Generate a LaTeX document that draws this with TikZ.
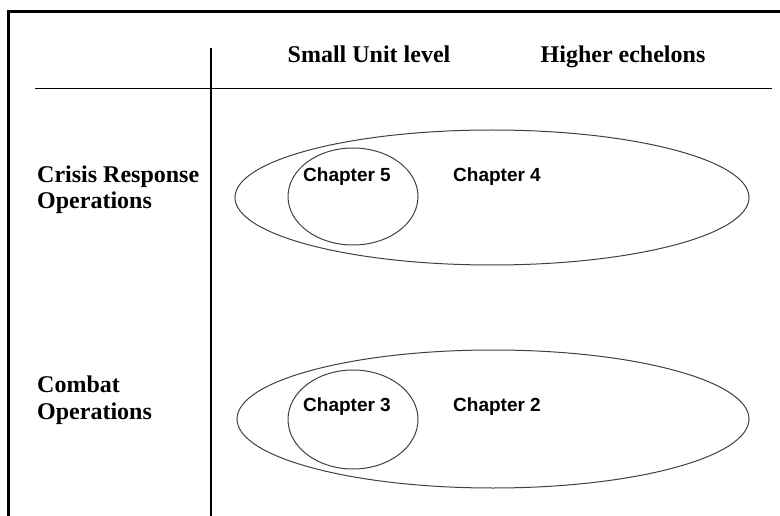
\documentclass[tikz,border=0pt]{standalone}
\usepackage{fontspec}
\setmainfont{Liberation Serif}
\setsansfont{Liberation Sans}
\usetikzlibrary{shapes.geometric}
\begin{document}
\begin{tikzpicture}[x=1pt,y=-1pt,
  rowlabel/.style={font=\fontsize{24}{26}\selectfont\bfseries, anchor=base west, inner sep=0pt},
  collabel/.style={font=\fontsize{24}{26}\selectfont\bfseries, anchor=base, inner sep=0pt},
  chaplabel/.style={font=\sffamily\fontsize{19}{21}\selectfont\bfseries, anchor=base west, inner sep=0pt},
  outer/.style={ellipse, draw=black!75, line width=1pt, inner sep=0pt, minimum width=#1},
  inner/.style={ellipse, draw=black!75, line width=1pt, inner sep=0pt, minimum width=130pt, minimum height=#1},
  frame/.style={line width=3pt},
  rule/.style={line width=1.8pt}]
  \useasboundingbox (0,0) rectangle (780,516);

  % frame along the left and top edges
  \coordinate (fb) at (8.5,517);
  \coordinate (fc) at (8.5,11.5);
  \coordinate (fr) at (781,11.5);
  \draw[frame] (fb) -- (fc) -- (fr);

  % table rules
  \coordinate (vt) at (211,48);
  \coordinate (vb) at (211,517);
  \coordinate (hl) at (35,88.5);
  \coordinate (hr) at (772,88.5);
  \draw[rule, line width=1.5pt] (vt) -- (vb);
  \draw[rule] (hl) -- (hr);

  % column headings
  \node[collabel] (small) at (369,63) {Small Unit level};
  \node[collabel] (higher) at (623,63) {Higher echelons};

  % row headings
  \node[rowlabel] (crisisA) at (37,183) {Crisis Response};
  \node[rowlabel] (crisisB) at (37,209) {Operations};
  \node[rowlabel] (combatA) at (37,392) {Combat};
  \node[rowlabel] (combatB) at (37,419) {Operations};

  % crisis response row
  \node[outer=514pt, minimum height=135pt] (ch4) at (492,197.5) {};
  \node[inner=97pt] (ch5) at (353,196.5) {};
  \node[chaplabel] (t5) at (303,182) {Chapter 5};
  \node[chaplabel] (t4) at (453,182) {Chapter 4};

  % combat row
  \node[outer=512pt, minimum height=138pt] (ch2) at (493,419) {};
  \node[inner=99pt] (ch3) at (353,419.5) {};
  \node[chaplabel] (t3) at (303,411) {Chapter 3};
  \node[chaplabel] (t2) at (453,411) {Chapter 2};
\end{tikzpicture}
\end{document}
